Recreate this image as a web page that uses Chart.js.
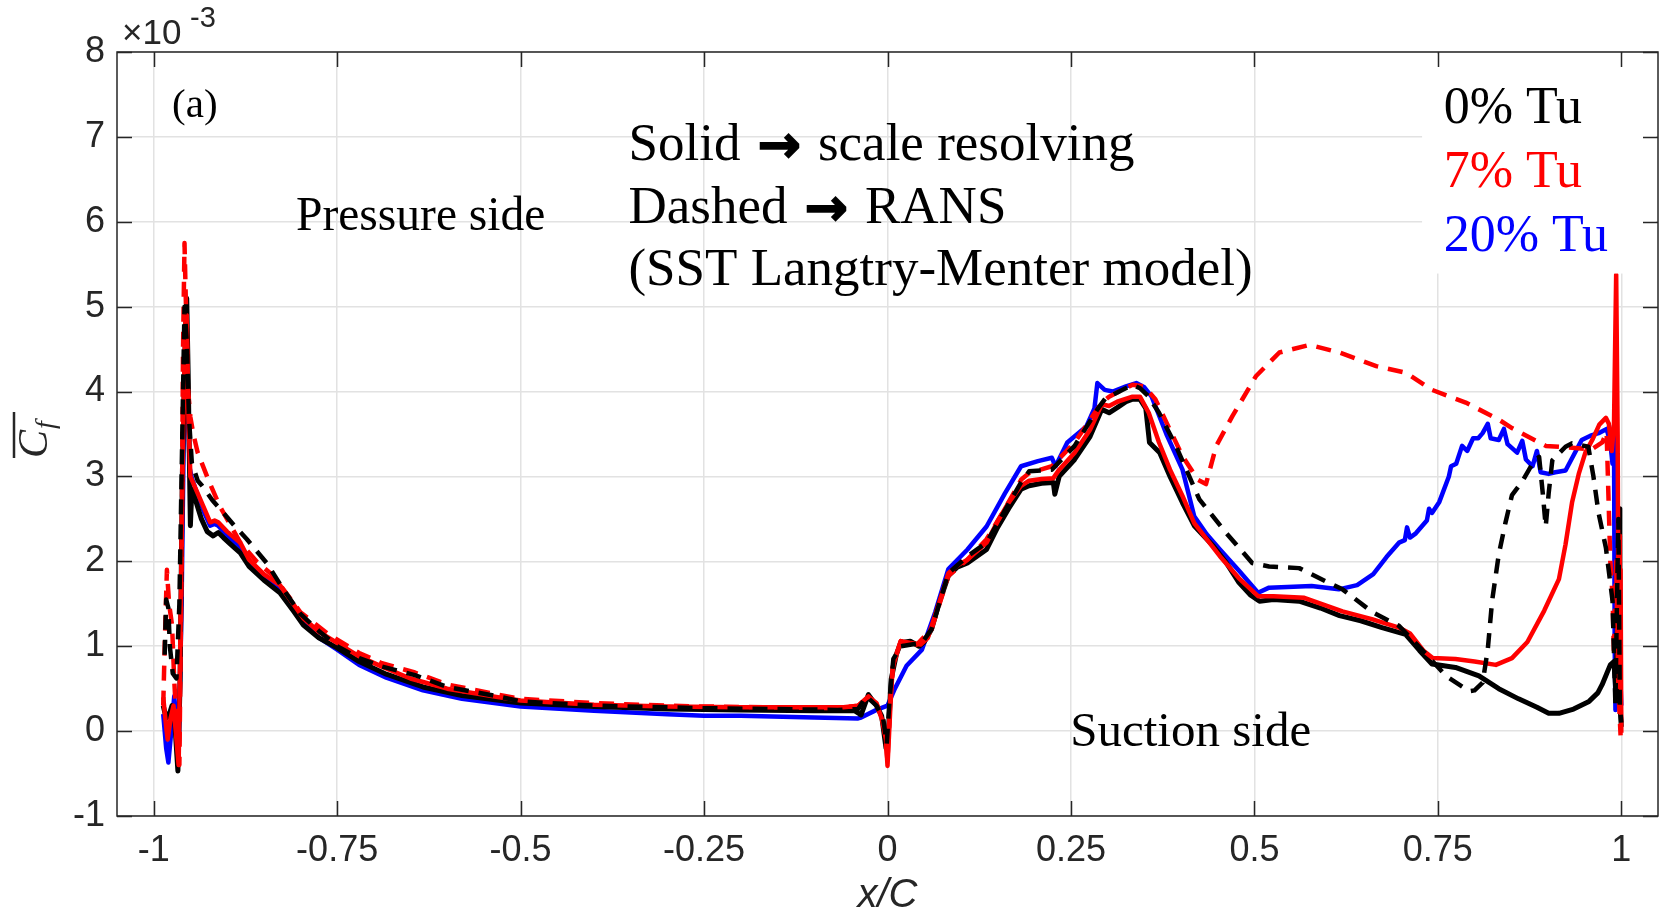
<!DOCTYPE html>
<html>
<head>
<meta charset="utf-8">
<script src="https://cdn.jsdelivr.net/npm/chart.js@4.4.0/dist/chart.umd.min.js"></script>
<style>
  html, body { margin: 0; padding: 0; background: #fff; }
  #wrap { width: 1660px; height: 910px; }
</style>
</head>
<body>
<div id="wrap"><canvas id="cf" width="1660" height="910"></canvas></div>
<script>
// x/C positions and mean skin friction (units of 1e-3)
// 0% Tu, scale resolving (black solid)
const xBlackSR = [-0.987,-0.983,-0.978,-0.975,-0.972,-0.967,-0.964,-0.961,-0.957,-0.955,-0.953,-0.951,-0.950,-0.948,-0.944,-0.935,-0.927,-0.919,-0.912,-0.905,-0.895,-0.882,-0.870,-0.850,-0.828,-0.810,-0.796,-0.775,-0.750,-0.720,-0.683,-0.633,-0.580,-0.500,-0.400,-0.300,-0.200,-0.100,-0.045,-0.036,-0.026,-0.015,-0.008,-0.002,0.001,0.005,0.012,0.018,0.031,0.043,0.050,0.060,0.070,0.083,0.095,0.109,0.122,0.135,0.150,0.165,0.182,0.193,0.210,0.226,0.228,0.234,0.255,0.276,0.292,0.302,0.313,0.325,0.334,0.344,0.352,0.357,0.371,0.385,0.402,0.418,0.444,0.462,0.479,0.495,0.507,0.526,0.561,0.590,0.616,0.645,0.674,0.706,0.725,0.742,0.774,0.806,0.833,0.860,0.885,0.901,0.915,0.935,0.956,0.968,0.974,0.985,0.990,0.993,0.995,0.997,0.998,0.999,1.000];
const yBlackSR = [0.30,0.15,0.22,0.30,0.20,-0.47,0.60,3.0,4.6,5.1,4.2,3.0,2.42,2.85,2.75,2.50,2.35,2.30,2.34,2.28,2.20,2.10,1.94,1.78,1.63,1.42,1.25,1.10,0.98,0.82,0.67,0.52,0.42,0.33,0.29,0.26,0.25,0.24,0.24,0.19,0.43,0.30,0.18,-0.20,-0.05,0.61,0.90,1.04,1.06,1.00,1.05,1.20,1.50,1.83,1.93,1.98,2.06,2.14,2.40,2.62,2.85,2.89,2.92,2.93,2.79,3.00,3.20,3.47,3.79,3.75,3.81,3.88,3.91,3.91,3.80,3.40,3.28,3.00,2.69,2.42,2.18,1.98,1.75,1.60,1.53,1.55,1.53,1.45,1.36,1.30,1.22,1.14,0.95,0.79,0.75,0.65,0.50,0.38,0.28,0.21,0.21,0.26,0.35,0.45,0.55,0.78,0.82,0.40,1.50,2.62,1.20,0.20,0.05];

// 7% Tu, scale resolving (red solid)
const xRedSR = [-0.987,-0.983,-0.981,-0.977,-0.973,-0.969,-0.966,-0.963,-0.960,-0.957,-0.955,-0.953,-0.950,-0.947,-0.940,-0.930,-0.923,-0.917,-0.912,-0.900,-0.882,-0.870,-0.850,-0.828,-0.810,-0.796,-0.775,-0.750,-0.720,-0.689,-0.650,-0.600,-0.531,-0.500,-0.400,-0.300,-0.200,-0.100,-0.060,-0.040,-0.026,-0.015,-0.008,-0.002,0.000,0.004,0.007,0.018,0.030,0.045,0.055,0.070,0.083,0.095,0.109,0.122,0.135,0.150,0.165,0.182,0.193,0.210,0.226,0.234,0.255,0.276,0.292,0.302,0.313,0.334,0.344,0.356,0.370,0.385,0.402,0.418,0.453,0.479,0.505,0.526,0.568,0.620,0.660,0.697,0.712,0.730,0.743,0.774,0.800,0.829,0.851,0.872,0.895,0.915,0.924,0.933,0.942,0.951,0.961,0.970,0.979,0.983,0.987,0.990,0.993,0.995,0.996,0.997,0.998,0.999,1.000];
const yRedSR = [0.40,0.05,-0.10,0.15,0.30,-0.10,-0.40,1.5,3.5,4.8,4.9,3.8,3.0,2.94,2.80,2.60,2.46,2.48,2.46,2.35,2.22,2.02,1.85,1.72,1.50,1.33,1.17,1.04,0.88,0.76,0.62,0.50,0.40,0.36,0.31,0.29,0.28,0.28,0.28,0.30,0.41,0.32,0.15,-0.10,-0.41,0.30,0.75,1.06,1.04,1.02,1.10,1.50,1.86,1.95,2.02,2.12,2.22,2.47,2.69,2.89,2.95,2.97,2.98,3.08,3.28,3.55,3.85,3.83,3.88,3.94,3.94,3.75,3.40,3.08,2.77,2.45,2.06,1.80,1.59,1.59,1.57,1.41,1.32,1.22,1.15,0.95,0.86,0.85,0.82,0.78,0.86,1.05,1.42,1.79,2.20,2.70,3.03,3.28,3.44,3.61,3.69,3.62,3.30,3.60,5.38,3.50,1.50,2.30,0.80,1.90,-0.02];

// 20% Tu, scale resolving (blue solid)
const xBlueSR = [-0.987,-0.983,-0.980,-0.976,-0.972,-0.969,-0.966,-0.962,-0.959,-0.956,-0.954,-0.951,-0.948,-0.940,-0.930,-0.923,-0.917,-0.912,-0.900,-0.882,-0.870,-0.850,-0.828,-0.810,-0.796,-0.775,-0.750,-0.720,-0.683,-0.633,-0.580,-0.500,-0.400,-0.300,-0.250,-0.200,-0.100,-0.040,-0.036,-0.015,0.000,0.010,0.026,0.047,0.065,0.083,0.109,0.135,0.160,0.182,0.205,0.224,0.229,0.245,0.271,0.282,0.286,0.296,0.307,0.325,0.339,0.350,0.360,0.380,0.402,0.418,0.435,0.453,0.480,0.505,0.520,0.578,0.615,0.640,0.662,0.680,0.697,0.705,0.708,0.712,0.720,0.735,0.738,0.742,0.752,0.765,0.768,0.775,0.783,0.790,0.798,0.805,0.811,0.818,0.822,0.833,0.840,0.845,0.858,0.865,0.870,0.879,0.885,0.890,0.901,0.910,0.924,0.935,0.946,0.958,0.969,0.980,0.985,0.988,0.990,0.991,0.992,0.994,0.996,0.998,1.000];
const yBlueSR = [0.20,-0.20,-0.37,0.00,0.41,0.10,-0.25,1.5,3.5,4.8,4.0,3.1,2.98,2.78,2.55,2.42,2.44,2.42,2.30,2.17,1.96,1.80,1.66,1.45,1.28,1.10,0.96,0.78,0.63,0.48,0.38,0.29,0.24,0.20,0.18,0.18,0.16,0.15,0.16,0.25,0.30,0.50,0.77,0.96,1.40,1.91,2.14,2.41,2.80,3.12,3.18,3.22,3.12,3.40,3.59,3.80,4.10,4.02,4.00,4.06,4.10,4.05,3.94,3.50,3.08,2.53,2.32,2.14,1.88,1.63,1.69,1.71,1.67,1.72,1.85,2.05,2.22,2.25,2.40,2.28,2.33,2.48,2.62,2.57,2.70,3.00,3.12,3.15,3.36,3.30,3.45,3.45,3.51,3.62,3.45,3.43,3.56,3.38,3.28,3.42,3.20,3.12,3.30,3.05,3.03,3.05,3.07,3.25,3.43,3.48,3.51,3.56,3.40,3.15,3.60,1.00,0.25,1.40,0.40,0.80,0.30];

// 0% Tu, RANS (black dashed)
const xBlackRANS = [-0.985,-0.983,-0.980,-0.978,-0.974,-0.969,-0.965,-0.961,-0.958,-0.955,-0.952,-0.948,-0.940,-0.934,-0.920,-0.905,-0.890,-0.873,-0.846,-0.824,-0.800,-0.775,-0.750,-0.720,-0.689,-0.644,-0.600,-0.531,-0.500,-0.400,-0.300,-0.250,-0.150,-0.068,-0.040,-0.029,-0.015,-0.006,-0.001,0.003,0.008,0.018,0.047,0.060,0.083,0.109,0.135,0.160,0.182,0.193,0.224,0.255,0.286,0.297,0.334,0.344,0.355,0.370,0.393,0.425,0.461,0.497,0.520,0.561,0.584,0.620,0.661,0.697,0.715,0.740,0.761,0.793,0.800,0.811,0.818,0.824,0.833,0.842,0.851,0.865,0.879,0.888,0.893,0.897,0.901,0.906,0.924,0.933,0.955,0.962,0.969,0.979,0.988,0.992,0.994,0.996,0.998,1.000];
const yBlackRANS = [0.9,1.55,1.45,1.0,0.68,0.62,1.5,3.5,5.0,4.6,3.7,3.16,2.95,2.89,2.72,2.57,2.42,2.26,1.98,1.68,1.38,1.18,1.00,0.86,0.76,0.66,0.52,0.41,0.35,0.30,0.28,0.27,0.26,0.25,0.26,0.41,0.30,0.15,-0.15,0.40,0.85,1.00,1.04,1.20,1.86,2.06,2.22,2.60,2.93,3.06,3.08,3.36,3.79,3.92,4.08,4.04,3.95,3.75,3.36,2.73,2.34,1.98,1.94,1.92,1.82,1.67,1.40,1.24,1.08,0.85,0.65,0.47,0.48,0.57,0.96,1.54,2.08,2.45,2.78,2.94,3.15,3.23,2.80,2.41,2.80,3.19,3.35,3.39,3.35,3.00,2.57,2.16,1.54,0.30,1.50,2.50,0.30,0.10];

// 7% Tu, RANS (red dashed)
const xRedRANS = [-0.987,-0.985,-0.982,-0.979,-0.975,-0.972,-0.968,-0.965,-0.962,-0.960,-0.958,-0.956,-0.953,-0.950,-0.946,-0.940,-0.925,-0.910,-0.895,-0.882,-0.860,-0.837,-0.824,-0.800,-0.762,-0.720,-0.689,-0.644,-0.600,-0.531,-0.500,-0.400,-0.300,-0.250,-0.150,-0.068,-0.040,-0.026,-0.015,-0.005,0.000,0.004,0.008,0.018,0.040,0.060,0.083,0.109,0.135,0.160,0.182,0.193,0.224,0.255,0.292,0.302,0.334,0.350,0.365,0.402,0.423,0.434,0.448,0.470,0.502,0.534,0.575,0.616,0.666,0.707,0.742,0.788,0.833,0.851,0.897,0.929,0.960,0.974,0.980,0.985,0.988,0.990,0.993,0.996,0.999];
const yRedRANS = [0.30,1.00,1.90,1.50,1.25,0.60,-0.05,-0.40,2.0,4.5,5.75,5.0,4.0,3.70,3.50,3.28,2.95,2.65,2.42,2.22,2.00,1.83,1.68,1.40,1.14,0.92,0.80,0.69,0.55,0.43,0.38,0.33,0.30,0.29,0.28,0.27,0.30,0.40,0.33,0.10,-0.35,0.40,0.80,1.06,1.02,1.20,1.83,2.02,2.26,2.62,2.96,3.04,3.12,3.40,3.87,3.94,4.08,4.06,3.91,3.24,2.96,2.91,3.36,3.71,4.18,4.46,4.55,4.46,4.30,4.22,4.02,3.87,3.67,3.57,3.36,3.34,3.32,3.40,3.52,2.00,1.60,0.90,2.00,0.50,-0.05];

// axes
const xTicks = [-1, -0.75, -0.5, -0.25, 0, 0.25, 0.5, 0.75, 1];
const xTickLabels = ['-1', '-0.75', '-0.5', '-0.25', '0', '0.25', '0.5', '0.75', '1'];
const yTicks = [-1, 0, 1, 2, 3, 4, 5, 6, 7, 8];
const yTickLabels = ['-1', '0', '1', '2', '3', '4', '5', '6', '7', '8'];

const legendLabels = ['0% Tu', '7% Tu', '20% Tu'];
const legendColors = ['#000000', '#ff0000', '#0000ff'];

const GRID = '#e2e2e2';
const AXIS = '#262626';
const SERIF = '"Liberation Serif", "Times New Roman", serif';
const SANS = '"Liberation Sans", Arial, Helvetica, sans-serif';

function pts(xs, ys) {
  return xs.map((x, i) => ({ x, y: ys[i] }));
}

function line(label, xs, ys, color, dashed, width) {
  return {
    label,
    data: pts(xs, ys),
    showLine: true,
    borderColor: color,
    backgroundColor: color,
    borderWidth: width,
    borderDash: dashed ? [15, 10] : [],
    borderCapStyle: 'butt',
    borderJoinStyle: 'round',
    pointRadius: 0,
    tension: 0,
  };
}

// index 0 is drawn on top
const datasets = [
  line('0% Tu RANS', xBlackRANS, yBlackRANS, '#000000', true, 4.5),
  line('7% Tu RANS', xRedRANS, yRedRANS, '#ff0000', true, 4.5),
  line('7% Tu', xRedSR, yRedSR, '#ff0000', false, 4.5),
  line('0% Tu', xBlackSR, yBlackSR, '#000000', false, 5),
  line('20% Tu', xBlueSR, yBlueSR, '#0000ff', false, 4.5),
];

// text line with a heavy arrow in the middle
function arrowLine(ctx, left, right, x, y) {
  const big = `53px ${SERIF}`;
  const gap = 17;
  ctx.font = big;
  ctx.fillText(left, x, y);
  x += ctx.measureText(left).width + gap;
  ctx.font = `bold 52px "DejaVu Sans", sans-serif`;
  ctx.lineWidth = 1.5;
  ctx.strokeStyle = '#000';
  ctx.fillText('\u2192', x, y + 2);
  ctx.strokeText('\u2192', x, y + 2);
  x += ctx.measureText('\u2192').width + gap;
  ctx.font = big;
  ctx.fillText(right, x, y);
}

const decor = {
  id: 'decor',
  afterDatasetsDraw(chart) {
    const { ctx, chartArea: a, scales: { x, y } } = chart;
    ctx.save();

    // legend background
    const lx = x.getPixelForValue(0.7285);
    ctx.fillStyle = '#fff';
    ctx.fillRect(lx, a.top + 2, a.right - lx - 2, y.getPixelForValue(5.39) - a.top - 2);

    ctx.fillStyle = '#000';
    ctx.textBaseline = 'alphabetic';
    ctx.textAlign = 'left';

    ctx.font = `41px ${SERIF}`;
    ctx.fillText('(a)', x.getPixelForValue(-0.975), y.getPixelForValue(7.235));

    ctx.font = `47.5px ${SERIF}`;
    ctx.fillText('Pressure side', x.getPixelForValue(-0.806), y.getPixelForValue(5.906));
    ctx.font = `49px ${SERIF}`;
    ctx.fillText('Suction side', x.getPixelForValue(0.249), y.getPixelForValue(-0.176));

    const tx = x.getPixelForValue(-0.353);
    arrowLine(ctx, 'Solid', 'scale resolving', tx, y.getPixelForValue(6.73));
    arrowLine(ctx, 'Dashed', 'RANS', tx, y.getPixelForValue(5.99));
    ctx.font = `53px ${SERIF}`;
    ctx.fillText('(SST Langtry-Menter model)', tx, y.getPixelForValue(5.25));

    // legend text
    const legY = [7.16, 6.415, 5.65];
    ctx.font = `52px ${SERIF}`;
    legendLabels.forEach((t, i) => {
      ctx.fillStyle = legendColors[i];
      ctx.fillText(t, x.getPixelForValue(0.758), y.getPixelForValue(legY[i]));
    });

    // axes box with inward ticks
    ctx.strokeStyle = AXIS;
    ctx.lineWidth = 1.5;
    ctx.strokeRect(a.left, a.top, a.right - a.left, a.bottom - a.top);
    const tl = 15;
    ctx.beginPath();
    xTicks.forEach(v => {
      const px = Math.round(x.getPixelForValue(v)) + 0.5;
      ctx.moveTo(px, a.bottom); ctx.lineTo(px, a.bottom - tl);
      ctx.moveTo(px, a.top); ctx.lineTo(px, a.top + tl);
    });
    yTicks.forEach(v => {
      const py = Math.round(y.getPixelForValue(v)) + 0.5;
      ctx.moveTo(a.left, py); ctx.lineTo(a.left + tl, py);
      ctx.moveTo(a.right, py); ctx.lineTo(a.right - tl, py);
    });
    ctx.stroke();
    ctx.restore();
  },
  afterDraw(chart) {
    const { ctx, chartArea: a } = chart;
    ctx.save();
    ctx.fillStyle = AXIS;
    ctx.textAlign = 'left';
    ctx.textBaseline = 'alphabetic';

    // exponent
    ctx.font = `35px ${SANS}`;
    ctx.fillText('\u00d710', a.left + 5, 44);
    ctx.font = `29px ${SANS}`;
    ctx.fillText('-3', a.left + 73, 27);

    // x title
    ctx.font = `italic 40px ${SANS}`;
    ctx.textAlign = 'center';
    ctx.fillText('x/C', (a.left + a.right) / 2, 907);

    // y title: overline C with subscript f
    ctx.translate(47, 458);
    ctx.rotate(-Math.PI / 2);
    ctx.textAlign = 'left';
    ctx.font = `italic 42px ${SERIF}`;
    ctx.fillText('C', 0, 0);
    const cw = ctx.measureText('C').width;
    ctx.font = `italic 28px ${SERIF}`;
    ctx.fillText('f', cw + 1, 7);
    ctx.strokeStyle = AXIS;
    ctx.lineWidth = 2.5;
    ctx.beginPath();
    ctx.moveTo(0, -33);
    ctx.lineTo(cw + 18, -33);
    ctx.stroke();
    ctx.restore();
  }
};

new Chart(document.getElementById('cf'), {
  type: 'scatter',
  data: { datasets },
  options: {
    responsive: false,
    animation: false,
    devicePixelRatio: 1,
    layout: { padding: { top: 52, right: 2, left: 0, bottom: 0 } },
    plugins: { legend: { display: false }, tooltip: { enabled: false } },
    scales: {
      x: {
        type: 'linear',
        min: -1.05,
        max: 1.05,
        afterBuildTicks: s => { s.ticks = xTicks.map(v => ({ value: v })); },
        afterFit: s => { s.height = 94; },
        grid: { color: GRID, lineWidth: 1.5, drawTicks: false },
        border: { display: false },
        ticks: {
          autoSkip: false,
          maxRotation: 0,
          padding: 13,
          color: AXIS,
          font: { family: SANS, size: 36 },
          callback: (v, i) => xTickLabels[i],
        },
      },
      y: {
        type: 'linear',
        min: -1,
        max: 8,
        afterBuildTicks: s => { s.ticks = yTicks.map(v => ({ value: v })); },
        afterFit: s => { s.width = 117; },
        grid: { color: GRID, lineWidth: 1.5, drawTicks: false },
        border: { display: false },
        ticks: {
          autoSkip: false,
          padding: 12,
          color: AXIS,
          font: { family: SANS, size: 36 },
          callback: (v, i) => yTickLabels[i],
        },
      },
    },
  },
  plugins: [decor],
});
</script>
</body>
</html>
